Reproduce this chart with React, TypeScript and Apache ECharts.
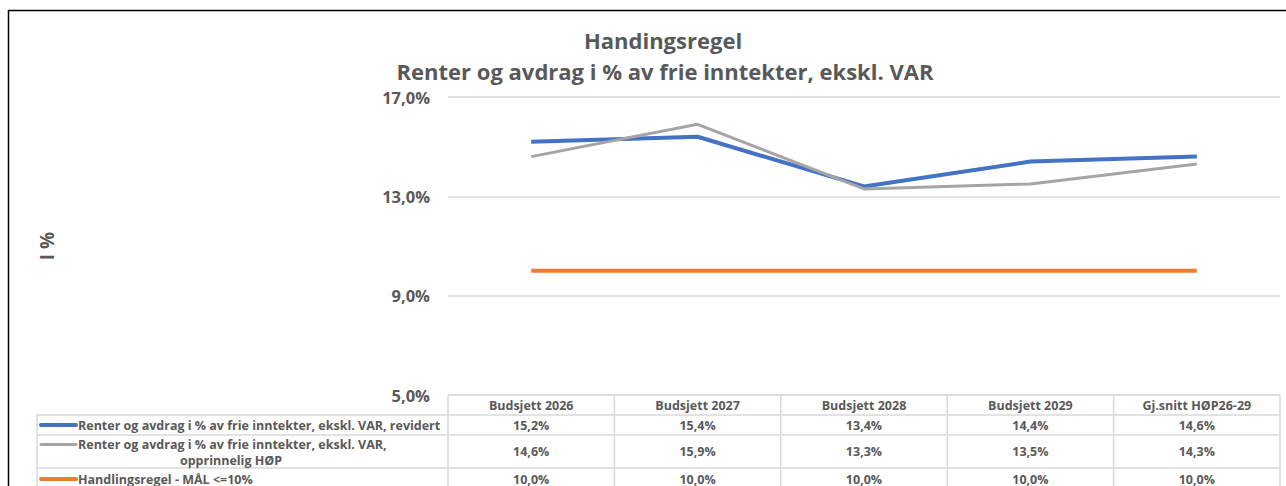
import React, { useEffect, useRef } from "react";
import * as echarts from "echarts";

const categories = ["Budsjett 2026", "Budsjett 2027", "Budsjett 2028", "Budsjett 2029", "Gj.snitt HØP26-29"];
const seriesNames = [
  "Renter og avdrag i % av frie inntekter, ekskl. VAR, revidert",
  "Renter og avdrag i % av frie inntekter, ekskl. VAR, opprinnelig HØP",
  "Handlingsregel - MÅL <=10%",
];
const revidert = [15.2, 15.4, 13.4, 14.4, 14.6];
const opprinnelig = [14.6, 15.9, 13.3, 13.5, 14.3];
const handlingsregel = [10.0, 10.0, 10.0, 10.0, 10.0];
const yTicks = [5, 9, 13, 17];
const titleLines = ["Handingsregel", "Renter og avdrag i % av frie inntekter, ekskl. VAR"];
const yAxisName = "I %";

const colors = ["#4472C4", "#A5A5A5", "#ED7D31"];
const textColor = "#595959";
const borderColor = "#D9D9D9";
const FONT = "'Open Sans', sans-serif";

const fmt = (v: number) => v.toFixed(1).replace(".", ",") + "%";

export default function App() {
  const ref = useRef<HTMLDivElement>(null);
  useEffect(() => {
    if (!ref.current) return;
    const chart = echarts.init(ref.current, undefined, { renderer: "svg" });
    const W = 1286;
    const gridLeft = 448;
    const gridRight = 1280;
    const colW = (gridRight - gridLeft) / categories.length;
    const rowTops = [395, 415, 435, 468, 490];
    const legendLeft = 37;
    const allData = [revidert, opprinnelig, handlingsregel];
    const tf = `bold 12.5px ${FONT}`;

    const g: any[] = [];
    g.push({ type: "rect", shape: { x: 8.5, y: 10.5, width: W, height: 600 }, style: { fill: "none", stroke: "#000", lineWidth: 1.5 }, silent: true });
    g.push({ type: "line", shape: { x1: gridLeft, y1: rowTops[0], x2: gridRight, y2: rowTops[0] }, style: { stroke: borderColor, lineWidth: 1 } });
    for (let r = 1; r < rowTops.length - 1; r++) {
      g.push({ type: "line", shape: { x1: legendLeft, y1: rowTops[r], x2: gridRight, y2: rowTops[r] }, style: { stroke: borderColor, lineWidth: 1.5 } });
    }
    g.push({ type: "line", shape: { x1: legendLeft, y1: rowTops[1], x2: legendLeft, y2: 490 }, style: { stroke: borderColor, lineWidth: 1.5 } });
    for (let c = 0; c <= categories.length; c++) {
      const x = gridLeft + c * colW;
      g.push({ type: "line", shape: { x1: x, y1: rowTops[0], x2: x, y2: 490 }, style: { stroke: borderColor, lineWidth: 1.5 } });
    }
    categories.forEach((cat, i) => {
      g.push({ type: "text", x: gridLeft + (i + 0.5) * colW, y: (rowTops[0] + rowTops[1]) / 2, style: { text: cat, fill: textColor, font: tf, align: "center", verticalAlign: "middle" } });
    });
    allData.forEach((arr, r) => {
      const cy = (rowTops[r + 1] + rowTops[r + 2]) / 2;
      const ly = r === 1 ? cy - 7 : cy;
      g.push({ type: "line", shape: { x1: 41, y1: ly, x2: 76, y2: ly }, style: { stroke: colors[r], lineWidth: r === 1 ? 3 : 4, lineCap: "round" } });
      if (r === 1) {
        g.push({ type: "text", x: 78, y: cy - 7, style: { text: "Renter og avdrag i % av frie inntekter, ekskl. VAR,", fill: textColor, font: tf, align: "left", verticalAlign: "middle" } });
        g.push({ type: "text", x: 231, y: cy + 9, style: { text: "opprinnelig HØP", fill: textColor, font: tf, align: "center", verticalAlign: "middle" } });
      } else {
        g.push({ type: "text", x: 78, y: cy, style: { text: seriesNames[r], fill: textColor, font: tf, align: "left", verticalAlign: "middle" } });
      }
      arr.forEach((v, i) => {
        g.push({ type: "text", x: gridLeft + (i + 0.5) * colW, y: cy, style: { text: fmt(v), fill: textColor, font: tf, align: "center", verticalAlign: "middle" } });
      });
    });
    g.push({ type: "text", x: 663, y: 40, style: { text: titleLines[0], fill: textColor, font: `bold 22px ${FONT}`, align: "center", verticalAlign: "middle" } });
    g.push({ type: "text", x: 665, y: 70.5, style: { text: titleLines[1], fill: textColor, font: `bold 22px ${FONT}`, align: "center", verticalAlign: "middle" } });
    g.push({ type: "text", x: 47, y: 246, rotation: Math.PI / 2, style: { text: yAxisName, fill: textColor, font: `bold 19px ${FONT}`, align: "center", verticalAlign: "middle" } });

    chart.setOption({
      animation: false,
      grid: { left: gridLeft, right: W - gridRight, top: 97, bottom: 486 - 395 },
      xAxis: {
        type: "category",
        data: categories,
        boundaryGap: true,
        axisLine: { show: false },
        axisTick: { show: false },
        axisLabel: { show: false },
      },
      yAxis: {
        type: "value",
        min: yTicks[0],
        max: yTicks[yTicks.length - 1],
        interval: 4,
        axisLine: { show: false },
        axisTick: { show: false },
        splitLine: { lineStyle: { color: borderColor, width: 1.5 } },
        axisLabel: { formatter: (v: number) => fmt(v), color: textColor, fontFamily: FONT, fontSize: 16.5, fontWeight: "bold", margin: 18 },
      },
      series: allData.map((arr, i) => ({
        type: "line",
        name: seriesNames[i],
        data: arr,
        symbol: "none",
        lineStyle: { color: colors[i], width: i === 1 ? 3 : 4 },
      })),
      graphic: g,
    });
    return () => chart.dispose();
  }, []);
  return <div ref={ref} style={{ position: "fixed", left: 0, top: 0, width: 1286, height: 486, background: "#fff" }} />;
}
